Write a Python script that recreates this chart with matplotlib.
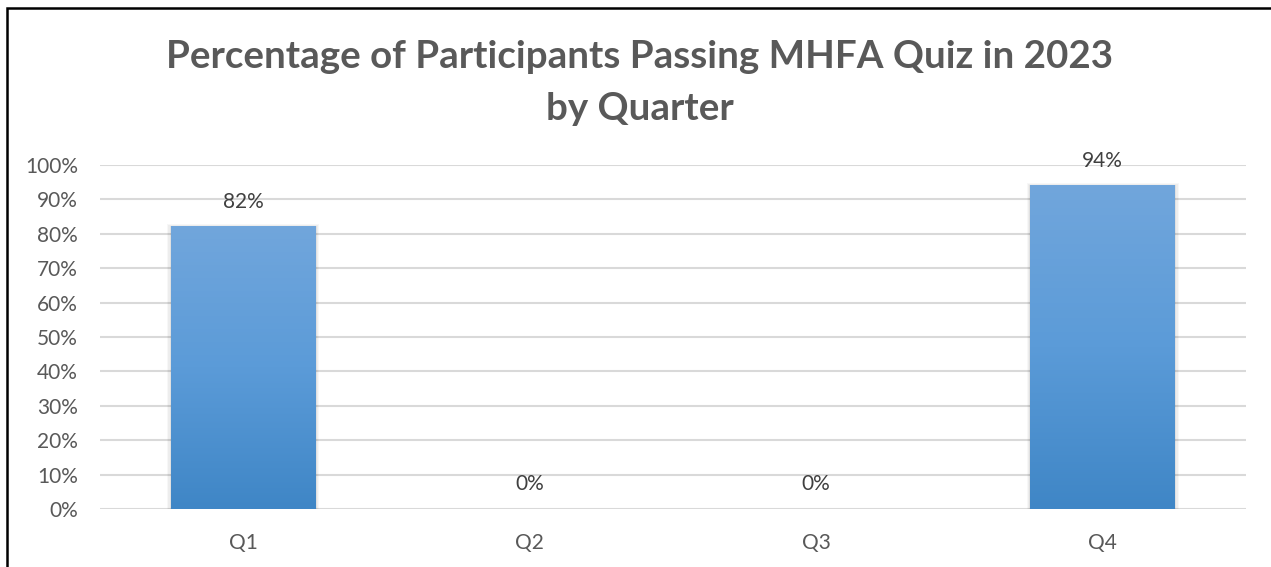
import matplotlib
matplotlib.use("Agg")
import matplotlib.pyplot as plt
import numpy as np
from matplotlib.patches import Rectangle
from matplotlib.colors import LinearSegmentedColormap

categories = ["Q1", "Q2", "Q3", "Q4"]
values = [82, 0, 0, 94]
yticks = [0, 10, 20, 30, 40, 50, 60, 70, 80, 90, 100]
title_lines = ["Percentage of Participants Passing MHFA Quiz in 2023", "by Quarter"]

plt.rcParams['font.family'] = ['Lato', 'DejaVu Sans']
W, H = 1271, 567
fig = plt.figure(figsize=(W/100, H/100), dpi=100)
ax = fig.add_axes([100/W, 1-509/H, (1246-100)/W, (509-165)/H])

x = np.arange(len(categories))
bars = ax.bar(x, values, width=0.506, color='none', zorder=3)
cmap = LinearSegmentedColormap.from_list('g', ['#3f86c6', '#5b9bd8', '#71a6dc'])
grad = np.linspace(0, 1, 256).reshape(-1, 1)
for b in bars:
    h = b.get_height()
    x0 = b.get_x(); w = b.get_width()
    if h > 0:
        for k, a in enumerate([0.05, 0.04, 0.03]):
            off = 0.004 * (k + 1)
            ax.add_patch(Rectangle((x0 - off, 0), w + 2*off, h + off*60, color='#000000', alpha=a, lw=0, zorder=2))
        ax.imshow(grad, extent=(x0, x0 + w, 0, h), origin='lower', cmap=cmap, aspect='auto', zorder=3)
    ax.annotate(f"{h:.0f}%", (x0 + w/2, h), xytext=(0, 25), textcoords='offset pixels',
                ha='center', va='center', fontsize=15, color='#404040')

ax.set_xlim(-0.5, len(categories) - 0.5)
ax.set_ylim(0, 100)
ax.set_yticks(yticks)
ax.set_yticklabels([f"{t}%" for t in yticks])
ax.set_xticks(x)
ax.set_xticklabels(categories)
ax.tick_params(axis='both', length=0, labelsize=15, labelcolor='#595959')
ax.tick_params(axis='y', pad=16)
ax.tick_params(axis='x', pad=17)
ax.grid(axis='y', color='#d9d9d9', lw=1.5, zorder=0)
ax.set_axisbelow(True)
for s in ax.spines.values():
    s.set_visible(False)

for line, yc in zip(title_lines, [57, 109]):
    fig.text(640/W, 1-yc/H, line, ha='center', va='center', fontsize=27.7, fontweight='bold',
             color='#595959')

fig.add_artist(Rectangle((7/W, -0.1), 1.2, 1 - 8/H + 0.1, transform=fig.transFigure,
                         fill=False, edgecolor='black', lw=1.8))

fig.savefig("out.png", dpi=100, facecolor='white')
